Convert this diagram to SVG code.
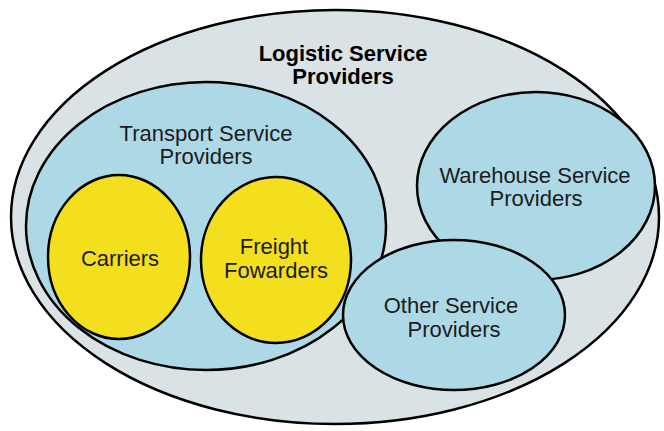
<svg xmlns="http://www.w3.org/2000/svg" width="664" height="431" viewBox="0 0 664 431">
<style>
.sh{stroke:#000;stroke-width:2.5}
.grey{fill:#d9e3e5}
.blue{fill:#add8e6}
.yel{fill:#f4df1f}
text{font-family:"Liberation Sans",Arial,sans-serif;font-size:22px;fill:#1c1c1c;text-anchor:middle}
.b{font-weight:bold;fill:#000}
</style>
<rect width="664" height="431" fill="#fff"/>
<g id="logistic">
<ellipse class="sh grey" cx="335" cy="217" rx="324" ry="207"/>
<text class="b" x="343" y="61">Logistic Service</text>
<text class="b" x="343" y="84">Providers</text>
</g>
<g id="transport">
<ellipse class="sh blue" cx="206" cy="226" rx="180" ry="144"/>
<text x="206" y="141">Transport Service</text>
<text x="206" y="164">Providers</text>
</g>
<g id="carriers">
<ellipse class="sh yel" cx="119" cy="257" rx="71" ry="82"/>
<text x="120" y="266">Carriers</text>
</g>
<g id="freight">
<ellipse class="sh yel" cx="276" cy="260" rx="75" ry="83"/>
<text x="274" y="254">Freight</text>
<text x="276" y="278">Fowarders</text>
</g>
<g id="warehouse">
<ellipse class="sh blue" cx="536" cy="186" rx="119" ry="94"/>
<text x="535" y="183">Warehouse Service</text>
<text x="536" y="206">Providers</text>
</g>
<g id="other">
<ellipse class="sh blue" cx="454" cy="315" rx="111" ry="75"/>
<text x="451" y="313">Other Service</text>
<text x="454" y="337">Providers</text>
</g>
<g id="connectors"/>
</svg>
